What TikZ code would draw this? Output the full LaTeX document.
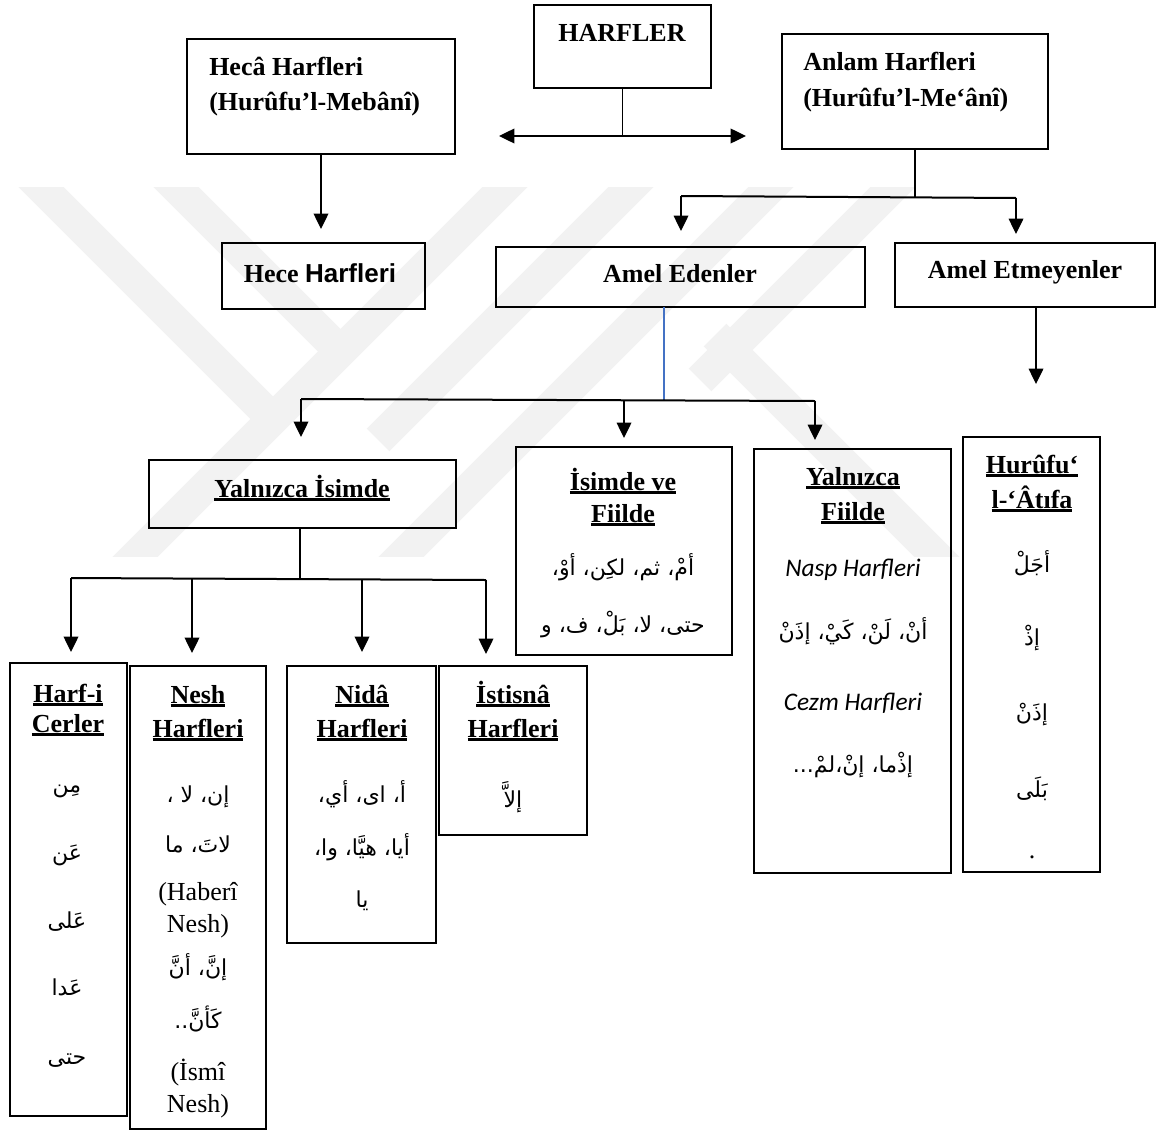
\documentclass[tikz,border=0pt]{standalone}
\usepackage{fontspec}
\setmainfont{Liberation Serif}
\newfontfamily\arabicfont[Script=Arabic]{DejaVu Sans}
\newfontfamily\arialfont{Liberation Sans}
\newfontfamily\calibrifont{Carlito}
\TeXXeTstate=1
\usetikzlibrary{arrows.meta}

\definecolor{wmgray}{gray}{0.95}
\definecolor{linkblue}{HTML}{4472C4}

% thick underline for the box titles
\newsavebox\ulbox
\newcommand\ulin[1]{\sbox\ulbox{#1}\rlap{\rule[-2.8pt]{\wd\ulbox}{1.7pt}}\usebox\ulbox}
% Arabic line, right to left
\newcommand\ar[1]{{\arabicfont\fontsize{16.5pt}{20pt}\selectfont\beginR #1\endR}}

% rectangle given by its corners (x1,y1) (x2,y2)
\newcommand\bx[5]{\node[box,anchor=north west,minimum width={(#4-#2)*0.75pt},minimum height={(#5-#3)*0.75pt}] (#1) at (#2,#3) {};}

\tikzset{
  box/.style={draw=black,line width=1.4pt,inner sep=0pt,outer sep=0pt,rectangle},
  ttl/.style={anchor=base,inner sep=0pt,font=\fontsize{19.5pt}{24pt}\selectfont\bfseries},
  ttlw/.style={ttl,anchor=base west},
  txt/.style={anchor=base,inner sep=0pt,font=\fontsize{19.5pt}{24pt}\selectfont},
  cal/.style={anchor=base,inner sep=0pt,font=\calibrifont\itshape\fontsize{19pt}{24pt}\selectfont},
  conn/.style={draw=black,line width=1pt},
  bar/.style={draw=black,line width=1.5pt},
  arr/.style={conn,-{Triangle[width=11pt,length=11.5pt]}},
  darr/.style={conn,{Triangle[width=11pt,length=11.5pt]}-{Triangle[width=11pt,length=11.5pt]}},
  wm/.style={draw=wmgray,line width=24pt,line cap=butt},
}

\begin{document}
\begin{tikzpicture}[x=0.75pt,y=-0.75pt]
\useasboundingbox (0,0) rectangle (1162,1131);

% faint background emblem
\begin{scope}
  \clip (0,187) rectangle (1162,556);
  \draw[wm] (21,167) -- (270,416);
  \draw[wm] (156,167) -- (340,351);
  \draw[wm] (525,167) -- (110,582);
  \draw[wm] (791,167) -- (370,588);
  \draw[wm] (651,167) -- (378,440);
  \draw[wm] (913,167) -- (700,380);
  \draw[wm] (715,335) -- (960,580);
\end{scope}

% boxes
\bx{harfler}{534}{5}{711}{88}
\bx{heca}{187}{39}{455}{154}
\bx{anlam}{782}{34}{1048}{149}
\bx{hece}{222}{243}{425}{309}
\bx{edenler}{496}{247}{865}{307}
\bx{etmeyen}{895}{243}{1155}{307}
\bx{isimde}{149}{460}{456}{528}
\bx{isimfiil}{516}{447}{732}{655}
\bx{fiilde}{754}{449}{951}{873}
\bx{atifa}{963}{437}{1100}{872}
\bx{cerler}{10}{663}{127}{1116}
\bx{nesh}{130}{666}{266}{1129}
\bx{nida}{287}{666}{436}{943}
\bx{istisna}{439}{666}{587}{835}

% top level
\node[ttl] (harflerT) at (622,42) {HARFLER};
\node[ttlw] (hecaT1) at (209,75) {Hecâ Harfleri};
\node[ttlw] (hecaT2) at (209,110) {(Hurûfu’l-Mebânî)};
\node[ttlw] (anlamT1) at (803,70) {Anlam Harfleri};
\node[ttlw] (anlamT2) at (803,106) {(Hurûfu’l-Me‘ânî)};

% second level
\node[ttl] (heceT) at (320,282) {Hece {\arialfont Harfleri}};
\node[ttl] (edenT) at (680,282) {Amel Edenler};
\node[ttl] (etmT) at (1025,278) {Amel Etmeyenler};

% third level
\node[ttl] (isimdeT) at (302,497) {\ulin{Yalnızca İsimde}};

\node[ttl] (isimfiilT1) at (623,490) {\ulin{İsimde ve}};
\node[ttl] (isimfiilT2) at (623,522) {\ulin{Fiilde}};
\node[txt] (isimfiilA1) at (623,575) {\ar{أمْ، ثم، لكِن، أوْ،}};
\node[txt] (isimfiilA2) at (623,632) {\ar{حتى، لا، بَلْ، ف، و}};

\node[ttl] (fiildeT1) at (853,485) {\ulin{Yalnızca}};
\node[ttl] (fiildeT2) at (853,520) {\ulin{Fiilde}};
\node[cal] (naspT) at (853,576) {Nasp Harfleri};
\node[txt] (fiildeA1) at (853,639) {\ar{أنْ، لَنْ، كَيْ، إذَنْ}};
\node[cal] (cezmT) at (853,710) {Cezm Harfleri};
\node[txt] (fiildeA2) at (853,772) {\ar{إذْما، إنْ،لمْ...}};

\node[ttl] (atifaT1) at (1032,473) {\ulin{Hurûfu‘}};
\node[ttl] (atifaT2) at (1032,508) {\ulin{l-‘Âtıfa}};
\node[txt] (atifaA1) at (1032,572) {\ar{أجَلْ}};
\node[txt] (atifaA2) at (1032,645) {\ar{إذْ}};
\node[txt] (atifaA3) at (1032,720) {\ar{إذَنْ}};
\node[txt] (atifaA4) at (1032,797) {\ar{بَلَى}};
\node[txt] (atifaA5) at (1032,858) {.};

% fourth level
\node[ttl] (cerlerT1) at (68,702) {\ulin{Harf-i}};
\node[ttl] (cerlerT2) at (68,732) {\ulin{Cerler}};
\node[txt] (cerlerA1) at (67,792) {\ar{مِن}};
\node[txt] (cerlerA2) at (67,860) {\ar{عَن}};
\node[txt] (cerlerA3) at (67,928) {\ar{عَلى}};
\node[txt] (cerlerA4) at (67,995) {\ar{عَدا}};
\node[txt] (cerlerA5) at (67,1064) {\ar{حتى}};

\node[ttl] (neshT1) at (198,703) {\ulin{Nesh}};
\node[ttl] (neshT2) at (198,737) {\ulin{Harfleri}};
\node[txt] (neshA1) at (198,802) {\ar{إن، لا ،}};
\node[txt] (neshA2) at (198,852) {\ar{لاتَ، ما}};
\node[txt] (neshL1) at (198,900) {(Haberî};
\node[txt] (neshL2) at (198,932) {Nesh)};
\node[txt] (neshA3) at (198,975) {\ar{إنَّ، أنَّ}};
\node[txt] (neshA4) at (198,1028) {\ar{كَأنَّ..}};
\node[txt] (neshL3) at (198,1080) {(İsmî};
\node[txt] (neshL4) at (198,1112) {Nesh)};

\node[ttl] (nidaT1) at (362,703) {\ulin{Nidâ}};
\node[ttl] (nidaT2) at (362,737) {\ulin{Harfleri}};
\node[txt] (nidaA1) at (362,802) {\ar{أ، اى، أي،}};
\node[txt] (nidaA2) at (362,855) {\ar{أيا، هيَّا، وا،}};
\node[txt] (nidaA3) at (362,907) {\ar{يا}};

\node[ttl] (istisnaT1) at (513,703) {\ulin{İstisnâ}};
\node[ttl] (istisnaT2) at (513,737) {\ulin{Harfleri}};
\node[txt] (istisnaA1) at (513,807) {\ar{إلاَّ}};

% connectors: HARFLER
\coordinate (topJoin) at (622.5,136);
\coordinate (topL) at (499,136);
\coordinate (topR) at (746,136);
\draw[conn] (harfler.south) -- (topJoin);
\draw[darr] (topL) -- (topR);

% Hecâ -> Hece
\coordinate (heceTip) at (321,229);
\draw[arr] (heca.south) -- (heceTip);

% Anlam -> Amel Edenler / Amel Etmeyenler
\coordinate (anlamJoin) at (915,197);
\coordinate (edenBend) at (681,196);
\coordinate (edenTip) at (681,231);
\coordinate (etmBend) at (1016,198);
\coordinate (etmTip) at (1016,234);
\draw[conn] (anlam.south) -- (anlamJoin);
\draw[bar] (edenBend) -- (etmBend);
\draw[arr] (edenBend) -- (edenTip);
\draw[arr] (etmBend) -- (etmTip);

% Amel Etmeyenler
\coordinate (etmLow) at (1036,384);
\draw[arr] (etmLow |- etmeyen.south) -- (etmLow);

% Amel Edenler -> three groups
\coordinate (edenJoin) at (664,400);
\coordinate (barL) at (301,399);
\coordinate (barM) at (624,400);
\coordinate (barR) at (815,401);
\coordinate (isimdeTip) at (301,437);
\coordinate (isimfiilTip) at (624,438);
\coordinate (fiildeTip) at (815,440);
\draw[linkblue,line width=0.8pt] (edenJoin |- edenler.south) -- (edenJoin);
\draw[bar] (barL) -- (barR);
\draw[arr] (barL) -- (isimdeTip);
\draw[arr] (barM) -- (isimfiilTip);
\draw[arr] (barR) -- (fiildeTip);

% Yalnızca İsimde -> four groups
\coordinate (isimJoin) at (300,579);
\coordinate (b1) at (71,578);
\coordinate (b2) at (192,579);
\coordinate (b3) at (362,579);
\coordinate (b4) at (486,580);
\coordinate (t1) at (71,652);
\coordinate (t2) at (192,653);
\coordinate (t3) at (362,652);
\coordinate (t4) at (486,654);
\draw[conn] (isimJoin |- isimde.south) -- (isimJoin);
\draw[bar] (b1) -- (b4);
\draw[arr] (b1) -- (t1);
\draw[arr] (b2) -- (t2);
\draw[arr] (b3) -- (t3);
\draw[arr] (b4) -- (t4);
\end{tikzpicture}
\end{document}
